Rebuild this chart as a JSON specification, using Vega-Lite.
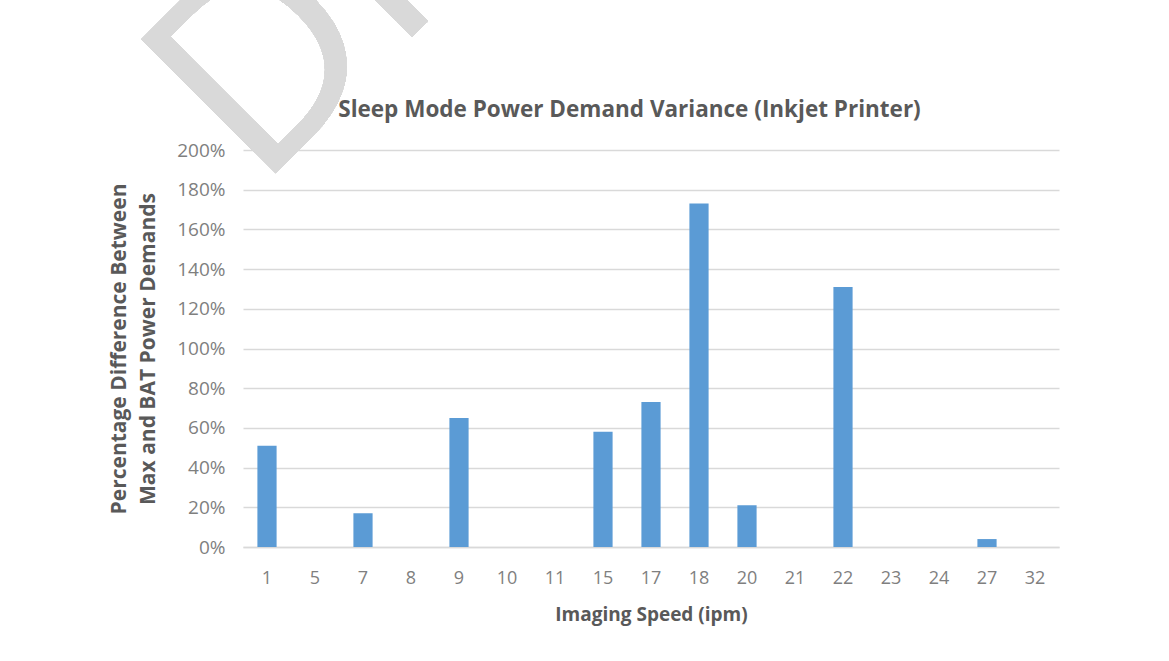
{
  "$schema": "https://vega.github.io/schema/vega-lite/v6.json",
  "autosize": {"type": "none"},
  "width": 816,
  "height": 397,
  "padding": {"left": 243, "top": 150, "right": 110, "bottom": 114},
  "background": "white",
  "data": {
    "values": [
      {"speed": "1", "pct": 0.51},
      {"speed": "5", "pct": 0},
      {"speed": "7", "pct": 0.17},
      {"speed": "8", "pct": 0},
      {"speed": "9", "pct": 0.65},
      {"speed": "10", "pct": 0},
      {"speed": "11", "pct": 0},
      {"speed": "15", "pct": 0.58},
      {"speed": "17", "pct": 0.73},
      {"speed": "18", "pct": 1.73},
      {"speed": "20", "pct": 0.21},
      {"speed": "21", "pct": 0},
      {"speed": "22", "pct": 1.31},
      {"speed": "23", "pct": 0},
      {"speed": "24", "pct": 0},
      {"speed": "27", "pct": 0.04},
      {"speed": "32", "pct": 0}
    ]
  },
  "layer": [
    {
      "mark": {"type": "bar", "color": "#5b9bd5"},
      "encoding": {
        "x": {
          "field": "speed",
          "type": "nominal",
          "sort": null,
          "scale": {"paddingInner": 0.6, "paddingOuter": 0.3},
          "title": "Imaging Speed (ipm)",
          "axis": {
            "orient": "bottom",
            "labelAngle": 0,
            "labelFont": "Open Sans",
            "labelFontSize": 18,
            "labelColor": "#7f7f7f",
            "labelPadding": 22,
            "ticks": false,
            "tickSize": 0,
            "domainColor": "#d9d9d9",
            "domainWidth": 1.5,
            "titleFont": "Open Sans",
            "titleFontSize": 19,
            "titleFontWeight": "bold",
            "titleColor": "#595959",
            "titlePadding": 18
          }
        },
        "y": {
          "field": "pct",
          "type": "quantitative",
          "scale": {"domain": [0, 2]},
          "title": ["Percentage Difference Between", "Max and BAT Power Demands"],
          "axis": {
            "values": [0, 0.2, 0.4, 0.6, 0.8, 1, 1.2, 1.4, 1.6, 1.8, 2],
            "format": ".0%",
            "labelOverlap": false,
            "labelFont": "Open Sans",
            "labelFontSize": 19,
            "labelColor": "#7f7f7f",
            "labelPadding": 18,
            "ticks": false,
            "tickSize": 0,
            "domain": false,
            "grid": true,
            "gridColor": "#d9d9d9",
            "gridWidth": 1.5,
            "titleFont": "Open Sans",
            "titleFontSize": 21,
            "titleFontWeight": "bold",
            "titleColor": "#595959",
            "titlePadding": 18,
            "titleLineHeight": 29
          }
        }
      }
    },
    {
      "mark": {
        "type": "text",
        "text": "DRAFT",
        "font": "Open Sans",
        "fontSize": 266,
        "angle": -45,
        "align": "left",
        "baseline": "alphabetic",
        "color": "#d9d9d9"
      },
      "encoding": {
        "x": {
          "datum": "1",
          "bandPosition": 0,
          "type": "nominal",
          "axis": {
            "orient": "top",
            "title": "Sleep Mode Power Demand Variance (Inkjet Printer)",
            "labels": false,
            "ticks": false,
            "domain": false,
            "grid": false,
            "titleFont": "Open Sans",
            "titleFontSize": 22.5,
            "titleFontWeight": "bold",
            "titleColor": "#595959",
            "titleAnchor": "start",
            "titleAlign": "center",
            "titleX": 386,
            "titleY": -34,
            "titleBaseline": "alphabetic"
          }
        },
        "y": {
          "datum": 1.79,
          "type": "quantitative",
          "axis": {
            "values": [0, 0.2, 0.4, 0.6, 0.8, 1, 1.2, 1.4, 1.6, 1.8, 2],
            "format": ".0%",
            "labelOverlap": false,
            "labelFont": "Open Sans",
            "labelFontSize": 19,
            "labelColor": "#7f7f7f",
            "labelPadding": 18,
            "ticks": false,
            "tickSize": 0,
            "domain": false,
            "grid": true,
            "gridColor": "#d9d9d9",
            "gridWidth": 1.5,
            "titleFont": "Open Sans",
            "titleFontSize": 21,
            "titleFontWeight": "bold",
            "titleColor": "#595959",
            "titlePadding": 18,
            "titleLineHeight": 29
          }
        }
      }
    }
  ],
  "resolve": {"axis": {"x": "independent"}},
  "config": {"view": {"stroke": null}}
}
